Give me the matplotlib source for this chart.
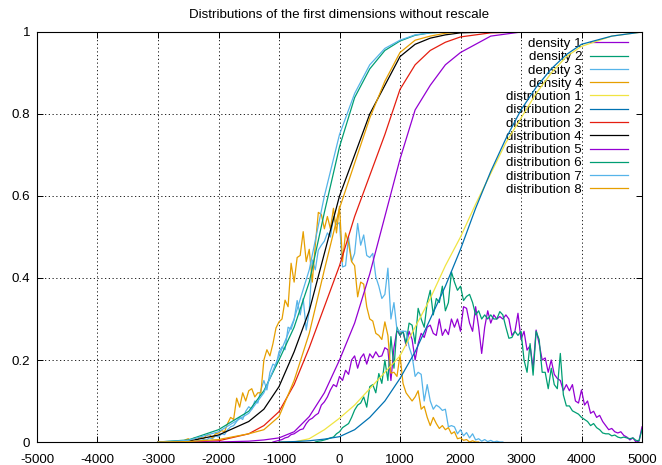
import numpy as np
import matplotlib
matplotlib.use("Agg")
import matplotlib.pyplot as plt

plt.rcParams['font.family'] = ['Liberation Sans', 'DejaVu Sans']
plt.rcParams['axes.unicode_minus'] = False

# densidades (histogramas com bins de 50)
passo_bin = 50

dens1_inicio = -1100
dens1 = [0, 0.002, 0.004, 0.006, 0.01, 0.012, 0.018, 0.02, 0.025, 0.03,
         0.032, 0.045, 0.054, 0.058, 0.065, 0.07, 0.09, 0.098, 0.11, 0.127,
         0.14, 0.135, 0.16, 0.15, 0.175, 0.165, 0.2, 0.21, 0.18, 0.205,
         0.215, 0.19, 0.215, 0.205, 0.22, 0.208, 0.21, 0.23, 0.225, 0.15,
         0.23, 0.273, 0.26, 0.27, 0.235, 0.27, 0.25, 0.2, 0.24, 0.265,
         0.255, 0.28, 0.285, 0.265, 0.26, 0.3, 0.26, 0.275, 0.262, 0.3,
         0.28, 0.3, 0.27, 0.33, 0.326, 0.29, 0.27, 0.33, 0.28, 0.216,
         0.28, 0.32, 0.29, 0.31, 0.3, 0.306, 0.3, 0.31, 0.3, 0.26,
         0.27, 0.314, 0.25, 0.27, 0.224, 0.235, 0.18, 0.273, 0.24, 0.2,
         0.205, 0.17, 0.2, 0.165, 0.155, 0.15, 0.125, 0.14, 0.125, 0.14,
         0.1, 0.095, 0.127, 0.09, 0.1, 0.07, 0.075, 0.06, 0.065, 0.05,
         0.04, 0.03, 0.033, 0.025, 0.022, 0.025, 0.016, 0.012, 0.005, 0.01,
         0.0, 0.002, 0.037]

dens2_inicio = -400
dens2 = [0, 0.002, 0.003, 0.005, 0.007, 0.01, 0.012, 0.02, 0.025, 0.035,
         0.04, 0.045, 0.06, 0.078, 0.09, 0.095, 0.11, 0.085, 0.135, 0.14,
         0.12, 0.167, 0.143, 0.2, 0.15, 0.257, 0.18, 0.28, 0.26, 0.27,
         0.24, 0.29, 0.285, 0.24, 0.326, 0.3, 0.28, 0.34, 0.37, 0.31,
         0.35, 0.34, 0.38, 0.32, 0.34, 0.415, 0.39, 0.37, 0.38, 0.345,
         0.355, 0.36, 0.34, 0.31, 0.32, 0.3, 0.31, 0.3, 0.31, 0.3,
         0.3, 0.318, 0.31, 0.28, 0.253, 0.255, 0.27, 0.26, 0.27, 0.2,
         0.17, 0.24, 0.163, 0.27, 0.25, 0.17, 0.17, 0.13, 0.18, 0.14,
         0.13, 0.216, 0.115, 0.088, 0.088, 0.076, 0.072, 0.068, 0.06, 0.055,
         0.05, 0.04, 0.045, 0.035, 0.03, 0.022, 0.02, 0.02, 0.015, 0.017,
         0.012, 0.01, 0.012, 0.01, 0.008, 0.01, 0.004, 0.003, 0.03]

dens3_inicio = -2500
dens3 = [0, 0.002, 0.0, 0.004, 0.003, 0.006, 0.005, 0.01, 0.008, 0.015,
         0.012, 0.02, 0.018, 0.03, 0.037, 0.04, 0.05, 0.06, 0.055, 0.075,
         0.086, 0.08, 0.1, 0.095, 0.127, 0.15, 0.127, 0.17, 0.19, 0.185,
         0.22, 0.232, 0.225, 0.28, 0.275, 0.298, 0.345, 0.31, 0.35, 0.273,
         0.32, 0.444, 0.42, 0.468, 0.48, 0.49, 0.51, 0.5, 0.55, 0.53,
         0.535, 0.427, 0.43, 0.5, 0.44, 0.46, 0.533, 0.48, 0.505, 0.455,
         0.45, 0.46, 0.403, 0.38, 0.35, 0.36, 0.424, 0.3, 0.34, 0.273,
         0.27, 0.27, 0.27, 0.232, 0.21, 0.16, 0.17, 0.165, 0.1, 0.14,
         0.1, 0.08, 0.09, 0.085, 0.077, 0.08, 0.037, 0.04, 0.037, 0.02,
         0.03, 0.015, 0.023, 0.01, 0.02, 0.005, 0.008, 0.002, 0.006, 0.001,
         0.004, 0.0, 0.002, 0, 0]

dens4_inicio = -2700
dens4 = [0, 0.003, 0.0, 0.005, 0.008, 0.003, 0.01, 0.006, 0.012, 0.008,
         0.016, 0.018, 0.01, 0.02, 0.022, 0.028, 0.025, 0.045, 0.06, 0.055,
         0.107, 0.085, 0.12, 0.1, 0.125, 0.13, 0.11, 0.12, 0.12, 0.2,
         0.225, 0.21, 0.24, 0.278, 0.293, 0.3, 0.346, 0.33, 0.436, 0.39,
         0.45, 0.455, 0.513, 0.44, 0.47, 0.39, 0.48, 0.56, 0.555, 0.52,
         0.55, 0.52, 0.57, 0.51, 0.575, 0.44, 0.51, 0.485, 0.44, 0.43,
         0.354, 0.39, 0.385, 0.33, 0.3, 0.295, 0.265, 0.26, 0.25, 0.293,
         0.26, 0.168, 0.17, 0.16, 0.212, 0.143, 0.12, 0.11, 0.1, 0.11,
         0.125, 0.08, 0.087, 0.06, 0.04, 0.06, 0.045, 0.033, 0.04, 0.03,
         0.035, 0.02, 0.025, 0.008, 0.01, 0.004, 0.006, 0.0, 0.003, 0.0, 0.0]

# distribuicoes acumuladas
x_dist_dir = [-1000, -750, -500, -250, 0, 250, 500, 750, 1000, 1250, 1500, 1750,
              2000, 2250, 2500, 2750, 3000, 3250, 3500, 3750, 4000, 4500, 5000]
dist1 = [0, 0.0, 0.008, 0.03, 0.058, 0.09, 0.13, 0.17, 0.21, 0.28, 0.35, 0.43,
         0.5, 0.58, 0.655, 0.73, 0.79, 0.85, 0.9, 0.94, 0.965, 0.99, 1.0]
dist2 = [0, 0.001, 0.003, 0.007, 0.013, 0.03, 0.06, 0.1, 0.155, 0.22, 0.3, 0.38,
         0.47, 0.57, 0.66, 0.74, 0.81, 0.865, 0.91, 0.945, 0.97, 0.99, 1.0]

x_dist_esq = [-3000, -2500, -2000, -1500, -1250, -1000, -750, -500, -250, 0, 250,
              500, 750, 1000, 1250, 1500, 1750, 2000, 2500, 3000, 5000]
dist3 = [0, 0, 0.003, 0.02, 0.04, 0.074, 0.14, 0.23, 0.33, 0.43, 0.55,
         0.65, 0.75, 0.86, 0.92, 0.955, 0.975, 0.988, 0.998, 1, 1]
dist4 = [0, 0.002, 0.017, 0.05, 0.08, 0.135, 0.22, 0.32, 0.46, 0.6, 0.7,
         0.8, 0.87, 0.94, 0.97, 0.985, 0.993, 0.998, 1, 1, 1]
dist5 = [0, 0, 0, 0.002, 0.005, 0.01, 0.025, 0.062, 0.12, 0.2, 0.29,
         0.41, 0.55, 0.69, 0.81, 0.87, 0.92, 0.95, 0.99, 1, 1]
dist6 = [0, 0.005, 0.03, 0.075, 0.125, 0.2, 0.28, 0.39, 0.56, 0.72, 0.84,
         0.91, 0.955, 0.978, 0.992, 0.998, 1, 1, 1, 1, 1]
dist7 = [0, 0.004, 0.025, 0.07, 0.12, 0.21, 0.3, 0.42, 0.6, 0.75, 0.85,
         0.92, 0.96, 0.98, 0.993, 0.998, 1, 1, 1, 1, 1]
dist8 = [0, 0.001, 0.006, 0.02, 0.03, 0.062, 0.15, 0.265, 0.42, 0.57, 0.68,
         0.79, 0.88, 0.95, 0.98, 0.99, 0.997, 1, 1, 1, 1]

# cores padrao do gnuplot
cores = ["#9400D3", "#009E73", "#56B4E9", "#E69F00",
         "#F0E442", "#0072B2", "#E51E10", "#000000"]

y_ticks = [0, 0.2, 0.4, 0.6, 0.8, 1]
y_labels = ["0", "0.2", "0.4", "0.6", "0.8", "1"]
x_ticks = list(range(-5000, 5001, 1000))

fig = plt.figure(figsize=(6.62, 4.65), dpi=100)
ax = fig.add_axes([37 / 662, 23 / 465, 605 / 662, 410 / 465])

densidades = [(dens1_inicio, dens1), (dens2_inicio, dens2),
              (dens3_inicio, dens3), (dens4_inicio, dens4)]
for i, (inicio, valores) in enumerate(densidades):
    x = inicio + passo_bin * np.arange(len(valores))
    ax.plot(x, valores, color=cores[i], lw=0.9, label=f"density {i + 1}")

distribuicoes = [(x_dist_dir, dist1), (x_dist_dir, dist2), (x_dist_esq, dist3),
                 (x_dist_esq, dist4), (x_dist_esq, dist5), (x_dist_esq, dist6),
                 (x_dist_esq, dist7), (x_dist_esq, dist8)]
for i, (x, valores) in enumerate(distribuicoes):
    ax.plot(x, valores, color=cores[(i + 4) % 8], lw=0.9, label=f"distribution {i + 1}")

ax.set_xlim(-5000, 5000)
ax.set_ylim(0, 1)
ax.set_xticks(x_ticks)
ax.set_xticklabels([str(v) for v in x_ticks])
ax.set_yticks(y_ticks)
ax.set_yticklabels(y_labels)
ax.tick_params(direction="in", length=4.3, width=0.7, top=True, right=True,
               labelsize=9.6)
ax.tick_params(axis="x", pad=8.5)
ax.tick_params(axis="y", pad=5)
for s in ax.spines.values():
    s.set_linewidth(0.8)

# grade: verticais inteiras, horizontais param antes da legenda (como no gnuplot)
estilo_grade = dict(color="black", linewidth=0.6, linestyle=(0, (1.5, 3)), zorder=0.5)
ax.grid(True, axis="x", **estilo_grade)
for y in y_ticks[1:-1]:
    fim = 0.716 if y > 0.5 else 1.0
    ax.axhline(y, xmin=0, xmax=fim, **estilo_grade)

leg = ax.legend(loc="upper right", bbox_to_anchor=(0.977, 0.986), frameon=False,
                markerfirst=False, fontsize=9.6, handlelength=2.85,
                handletextpad=0.6, labelspacing=0.07, borderpad=0,
                borderaxespad=0)
leg.set_zorder(1.5)

ax.set_title("Distributions of the first dimensions without rescale",
             fontsize=9.6, pad=10)

fig.savefig("out.png", dpi=100)
